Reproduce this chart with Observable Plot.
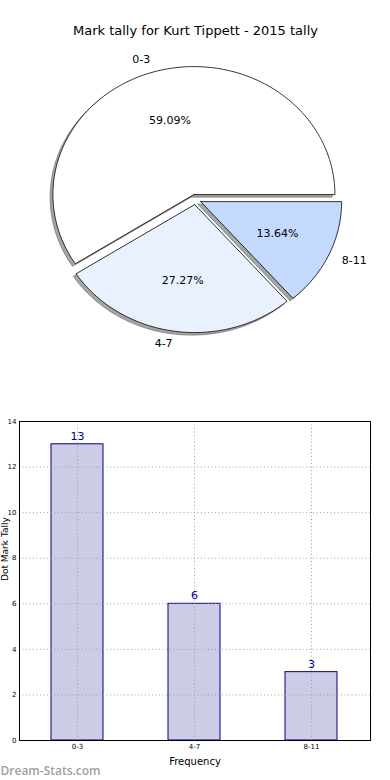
<!DOCTYPE html>
<html>
<head>
<meta charset="utf-8">
<script src="https://cdn.jsdelivr.net/npm/d3@7"></script>
<script src="https://cdn.jsdelivr.net/npm/@observablehq/plot@0.6"></script>
<style>
  html, body { margin: 0; padding: 0; background: #fff; }
  #chart { width: 390px; font-family: "DejaVu Sans", sans-serif; }
  #chart svg { display: block; }
</style>
</head>
<body>
<div id="chart"></div>
<script>
// ---- data ----
const titleText = "Mark tally for Kurt Tippett - 2015 tally";
const categories = ["0-3", "4-7", "8-11"];
const counts = [13, 6, 3];
const sliceColors = ["#ffffff", "#eaf1fe", "#c4d9fe"];
const explode = [0.04, 0.04, 0.04];
const yTicks = [0, 2, 4, 6, 8, 10, 12, 14];
const xLabel = "Frequency";
const yLabel = "Dot Mark Tally";
const watermark = "Dream-Stats.com";

// ---- pie geometry (data units, unit radius) ----
const total = d3.sum(counts);
let cum = 0;
const slices = categories.map((c, i) => {
  const f = counts[i] / total;
  const t1 = cum * 360, t2 = (cum + f) * 360;
  cum += f;
  const tm = (t1 + t2) / 2 * Math.PI / 180;
  const ox = explode[i] * Math.cos(tm), oy = explode[i] * Math.sin(tm);
  const pts = [{x: ox, y: oy}];
  const n = Math.max(2, Math.ceil(t2 - t1));
  for (let k = 0; k <= n; k++) {
    const a = (t1 + (t2 - t1) * k / n) * Math.PI / 180;
    pts.push({x: ox + Math.cos(a), y: oy + Math.sin(a)});
  }
  pts.push({x: ox, y: oy});
  return {
    c, i, f, pts,
    shadow: pts.map(p => ({x: p.x - 0.02, y: p.y - 0.02})),
    lx: ox + 1.1 * Math.cos(tm), ly: oy + 1.1 * Math.sin(tm),
    px: ox + 0.6 * Math.cos(tm), py: oy + 0.6 * Math.sin(tm),
    pct: (f * 100).toFixed(2) + "%"
  };
});

const pieW = 390, pieH = 370;
const rxPx = 141, ryPx = 128, cxPx = 195, cyPx = 199;

const pie = Plot.plot({
  width: pieW, height: pieH,
  margin: 0,
  style: {fontFamily: "DejaVu Sans", background: "white"},
  x: {domain: [-cxPx / rxPx, (pieW - cxPx) / rxPx], range: [0, pieW], axis: null},
  y: {domain: [-(pieH - cyPx) / ryPx, cyPx / ryPx], range: [pieH, 0], axis: null},
  marks: [
    ...slices.map(s => Plot.line(s.shadow, {x: "x", y: "y", fill: "#4d4d4d", fillOpacity: 0.5, stroke: "#4d4d4d", strokeOpacity: 0.5, strokeWidth: 1, curve: "linear"})),
    ...slices.map(s => Plot.line(s.pts, {x: "x", y: "y", fill: sliceColors[s.i], stroke: "black", strokeWidth: 0.8, strokeLinejoin: "miter", curve: "linear"})),
    Plot.text(slices.filter(s => s.lx < 0), {x: "lx", y: "ly", text: "c", textAnchor: "end", fontSize: 11, fill: "black"}),
    Plot.text(slices.filter(s => s.lx >= 0), {x: "lx", y: "ly", text: "c", textAnchor: "start", fontSize: 11, fill: "black"}),
    Plot.text(slices, {x: "px", y: "py", text: "pct", fontSize: 11, fill: "black"}),
    Plot.text([titleText], {frameAnchor: "top", lineAnchor: "middle", dy: 30, text: d => d, fontSize: 13, fill: "black"})
  ]
});

// ---- bar chart ----
const bars = categories.map((c, i) => ({c, v: counts[i]}));
const barChart = Plot.plot({
  width: 390, height: 410,
  marginTop: 51, marginBottom: 40, marginLeft: 19, marginRight: 20,
  style: {fontFamily: "DejaVu Sans", background: "white", overflow: "visible"},
  x: {type: "band", domain: categories, paddingInner: 0.555, paddingOuter: 0.2775, axis: null},
  y: {domain: [0, 14], axis: null},
  marks: [
    Plot.barY(bars, {x: "c", y: "v", fill: "#cccce6", stroke: "#000080", strokeWidth: 1}),
    Plot.gridY(yTicks, {stroke: "#a0a0a0", strokeOpacity: 1, strokeDasharray: "1,2.5", strokeWidth: 1}),
    Plot.gridX(categories, {stroke: "#a0a0a0", strokeOpacity: 1, strokeDasharray: "1,2.5", strokeWidth: 1}),
    Plot.text(bars, {x: "c", y: "v", text: d => String(d.v), dy: -8, fill: "#000080", fontSize: 11}),
    Plot.axisY(yTicks, {tickSize: 0, tickPadding: 3, fontSize: 7, label: null, tickFormat: d => String(d)}),
    Plot.axisX(categories, {tickSize: 0, tickPadding: 4, fontSize: 7, label: null}),
    Plot.frame({stroke: "black", strokeWidth: 1}),
    Plot.text([xLabel], {frameAnchor: "bottom", lineAnchor: "middle", dy: 21, text: d => d, fontSize: 10, fill: "black"}),
    Plot.text([yLabel], {frameAnchor: "left", dx: -14, rotate: -90, text: d => d, fontSize: 9, fill: "black"}),
    Plot.text([watermark], {frameAnchor: "bottom-left", lineAnchor: "middle", dx: -19, dy: 31, textAnchor: "start", text: d => d, fontSize: 12, fontWeight: 600, fontFamily: "Open Sans", fill: "#a0a0a0"})
  ]
});

const root = document.getElementById("chart");
root.appendChild(pie);
root.appendChild(barChart);
</script>
</body>
</html>
